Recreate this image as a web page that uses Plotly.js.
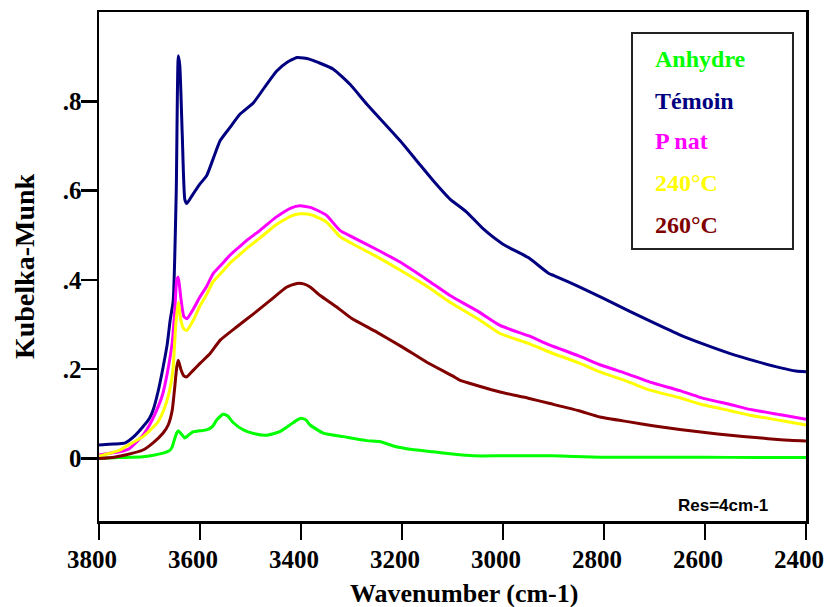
<!DOCTYPE html>
<html>
<head>
<meta charset="utf-8">
<script src="https://cdn.plot.ly/plotly-3.0.1.min.js"></script>
<style>html,body{margin:0;padding:0;background:#fff;}#chart{width:827px;height:607px;}</style>
</head>
<body>
<div id="chart"></div>
<script>
// Series names and colours
const seriesNames = ["Anhydre", "Témoin", "P nat", "240°C", "260°C"];
const seriesColors = ["#00ff00", "#000080", "#ff00ff", "#ffff00", "#800000"];

// Anhydre
const anhydreX = [3800, 3760, 3713, 3690, 3673, 3660, 3655, 3650, 3646, 3643, 3637, 3630, 3620, 3613, 3600, 3587, 3575, 3567, 3554, 3545, 3534, 3514, 3494, 3468, 3442, 3422, 3408, 3400, 3390, 3382, 3356, 3316, 3270, 3244, 3217, 3180, 3138, 3100, 3059, 3000, 2900, 2874, 2808, 2700, 2600, 2500, 2400];
const anhydreY = [0.0, 0.002, 0.004, 0.008, 0.012, 0.018, 0.026, 0.045, 0.057, 0.062, 0.055, 0.046, 0.055, 0.060, 0.062, 0.064, 0.072, 0.086, 0.099, 0.095, 0.080, 0.064, 0.056, 0.052, 0.060, 0.075, 0.086, 0.090, 0.086, 0.075, 0.057, 0.049, 0.040, 0.038, 0.028, 0.020, 0.015, 0.010, 0.006, 0.006, 0.006, 0.005, 0.003, 0.003, 0.003, 0.002, 0.002];

// Témoin
const temoinX = [3800, 3780, 3760, 3748, 3730, 3713, 3700, 3693, 3683, 3673, 3665, 3659, 3653, 3647, 3643, 3640, 3635, 3630, 3626, 3615, 3600, 3587, 3574, 3560, 3541, 3521, 3494, 3468, 3448, 3428, 3408, 3395, 3382, 3366, 3336, 3303, 3270, 3237, 3204, 3171, 3138, 3105, 3072, 3039, 3000, 2950, 2910, 2900, 2890, 2850, 2800, 2750, 2700, 2650, 2600, 2550, 2500, 2450, 2420, 2400];
const temoinY = [0.030, 0.032, 0.033, 0.035, 0.050, 0.071, 0.090, 0.108, 0.150, 0.205, 0.255, 0.310, 0.354, 0.600, 0.902, 0.880, 0.720, 0.580, 0.571, 0.590, 0.615, 0.633, 0.671, 0.712, 0.741, 0.771, 0.797, 0.838, 0.868, 0.887, 0.898, 0.897, 0.894, 0.887, 0.872, 0.838, 0.794, 0.753, 0.712, 0.667, 0.622, 0.581, 0.552, 0.514, 0.480, 0.450, 0.415, 0.410, 0.405, 0.385, 0.358, 0.330, 0.303, 0.277, 0.255, 0.235, 0.218, 0.203, 0.196, 0.194];

// P nat
const pnatX = [3800, 3760, 3740, 3713, 3700, 3689, 3675, 3665, 3655, 3650, 3646, 3643, 3638, 3632, 3626, 3613, 3600, 3587, 3574, 3557, 3541, 3524, 3508, 3481, 3450, 3420, 3402, 3380, 3350, 3323, 3300, 3250, 3204, 3150, 3105, 3050, 3006, 2950, 2907, 2850, 2808, 2750, 2709, 2650, 2610, 2550, 2511, 2450, 2400];
const pnatY = [0.008, 0.015, 0.022, 0.052, 0.075, 0.100, 0.140, 0.190, 0.260, 0.330, 0.400, 0.406, 0.360, 0.318, 0.313, 0.335, 0.362, 0.385, 0.414, 0.435, 0.455, 0.472, 0.488, 0.511, 0.540, 0.561, 0.566, 0.562, 0.545, 0.511, 0.497, 0.468, 0.440, 0.400, 0.365, 0.330, 0.298, 0.275, 0.254, 0.230, 0.210, 0.188, 0.171, 0.152, 0.137, 0.121, 0.110, 0.098, 0.088];

// 240°C
const t240X = [3800, 3760, 3748, 3713, 3700, 3685, 3675, 3665, 3657, 3653, 3648, 3643, 3638, 3632, 3626, 3613, 3600, 3587, 3574, 3557, 3541, 3524, 3508, 3481, 3450, 3420, 3402, 3380, 3350, 3323, 3300, 3250, 3204, 3150, 3105, 3050, 3006, 2950, 2907, 2850, 2808, 2750, 2709, 2650, 2610, 2550, 2511, 2450, 2400];
const t240Y = [0.005, 0.018, 0.026, 0.049, 0.062, 0.079, 0.100, 0.131, 0.170, 0.205, 0.300, 0.350, 0.310, 0.290, 0.287, 0.310, 0.342, 0.367, 0.396, 0.417, 0.437, 0.454, 0.470, 0.494, 0.523, 0.543, 0.548, 0.546, 0.530, 0.497, 0.482, 0.452, 0.422, 0.385, 0.350, 0.313, 0.280, 0.258, 0.238, 0.214, 0.194, 0.171, 0.153, 0.136, 0.122, 0.107, 0.097, 0.085, 0.075];

// 260°C
const t260X = [3800, 3770, 3748, 3713, 3693, 3673, 3663, 3655, 3650, 3646, 3643, 3638, 3632, 3626, 3613, 3600, 3580, 3560, 3527, 3494, 3461, 3428, 3408, 3395, 3382, 3362, 3330, 3300, 3250, 3200, 3150, 3100, 3085, 3050, 3006, 2950, 2907, 2850, 2808, 2750, 2700, 2650, 2600, 2550, 2500, 2450, 2400];
const t260Y = [0.0, 0.003, 0.008, 0.019, 0.035, 0.057, 0.075, 0.108, 0.160, 0.205, 0.220, 0.200, 0.185, 0.183, 0.198, 0.213, 0.235, 0.265, 0.295, 0.324, 0.354, 0.384, 0.392, 0.391, 0.384, 0.365, 0.340, 0.314, 0.283, 0.250, 0.215, 0.185, 0.175, 0.163, 0.149, 0.135, 0.123, 0.107, 0.093, 0.082, 0.073, 0.065, 0.058, 0.052, 0.047, 0.042, 0.039];

// Axis ticks
const xTickVals = [3800, 3600, 3400, 3200, 3000, 2800, 2600, 2400];
const xTickText = ["3800", "3600", "3400", "3200", "3000", "2800", "2600", "2400"];
const yTickVals = [0, 0.2, 0.4, 0.6, 0.8];
const yTickText = ["0", ".2", ".4", ".6", ".8"];

const xs = [anhydreX, temoinX, pnatX, t240X, t260X];
const ys = [anhydreY, temoinY, pnatY, t240Y, t260Y];
const drawOrder = [0, 1, 2, 3, 4];

const serif = "'Liberation Serif', 'Times New Roman', serif";

const traces = drawOrder.map(i => ({
  type: 'scatter', mode: 'lines',
  x: xs[i], y: ys[i], name: seriesNames[i],
  line: {color: seriesColors[i], width: 3, shape: 'spline', smoothing: 0.5},
  showlegend: false, hoverinfo: 'skip'
}));

// legend as text annotations inside a box
const legendY = [0.9082, 0.8251, 0.7466, 0.6640, 0.5815];
const annotations = seriesNames.map((n, i) => ({
  xref: 'paper', yref: 'paper', x: 0.7836, y: legendY[i],
  xanchor: 'left', yanchor: 'middle', showarrow: false,
  text: n, font: {family: serif, size: 24, color: seriesColors[i], weight: 'bold'}
}));
annotations.push({
  xref: 'paper', yref: 'paper', x: 0.8819, y: 0.0295,
  xanchor: 'center', yanchor: 'middle', showarrow: false,
  text: 'Res=4cm-1', font: {family: "'Liberation Sans', Arial, sans-serif", size: 17, color: '#000', weight: 'bold'}
});
// x-axis title (placed as in the reference, slightly right of centre)
annotations.push({
  xref: 'paper', yref: 'paper', x: 0.516, y: -0.143,
  xanchor: 'center', yanchor: 'middle', showarrow: false,
  text: 'Wavenumber (cm-1)', font: {family: serif, size: 26, color: '#000', weight: 'bold'}
});

const layout = {
  width: 827, height: 607,
  margin: {l: 99, r: 21, t: 12, b: 86},
  paper_bgcolor: '#fff', plot_bgcolor: '#fff',
  xaxis: {
    range: [3800, 2400], tickvals: xTickVals, ticktext: xTickText,
    showgrid: false, zeroline: false,
    showline: true, linecolor: '#000', linewidth: 2.5, mirror: true,
    ticks: 'outside', ticklen: 16, tickwidth: 2.5, tickcolor: '#000',
    ticklabeloverflow: 'allow', ticklabelstandoff: -2, ticklabelshift: 7,
    tickfont: {family: serif, size: 25, color: '#000', weight: 'bold'}
  },
  yaxis: {
    range: [-0.14, 1.0], tickvals: yTickVals, ticktext: yTickText,
    showgrid: false, zeroline: false,
    showline: true, linecolor: '#000', linewidth: 2.5, mirror: true,
    ticks: 'outside', ticklen: 16, tickwidth: 2.5, tickcolor: '#000',
    ticklabelstandoff: -6,
    tickfont: {family: serif, size: 25, color: '#000', weight: 'bold'},
    title: {text: 'Kubelka-Munk', standoff: 20, font: {family: serif, size: 28, color: '#000', weight: 'bold'}}
  },
  shapes: [{
    type: 'rect', xref: 'paper', yref: 'paper',
    x0: 0.7539, x1: 0.9816, y0: 0.5344, y1: 0.9587,
    line: {color: '#222', width: 2}, fillcolor: 'rgba(0,0,0,0)'
  }],
  annotations: annotations
};

Plotly.newPlot('chart', traces, layout, {displayModeBar: false, staticPlot: true});
</script>
</body>
</html>
